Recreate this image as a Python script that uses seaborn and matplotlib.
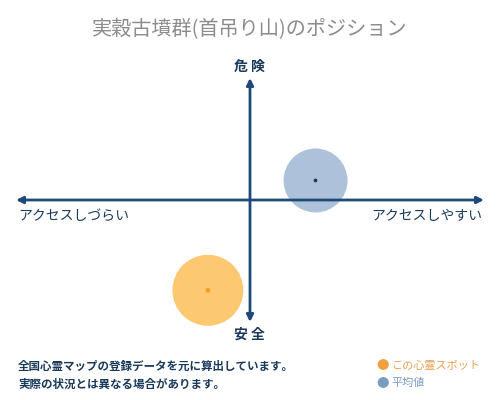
import matplotlib
matplotlib.use("Agg")
import matplotlib.pyplot as plt
import seaborn as sns
import pandas as pd

# position values (access: -10 hard .. 10 easy, danger: -10 safe .. 10 dangerous)
labels = ["この心霊スポット", "平均値"]
access = [-1.8, 2.8]
danger = [-7.4, 1.6]
sizes = [2610, 2120]
colors = ["#fdc56a", "#a9bfd8"]
dot_colors = ["#f0a020", "#1f3a5c"]

title = "実穀古墳群(首吊り山)のポジション"
notes = ["全国心霊マップの登録データを元に算出しています。", "実際の状況とは異なる場合があります。"]

df = pd.DataFrame({"label": labels, "access": access, "danger": danger, "size": sizes})

sns.set_theme(style="white")
plt.rcParams['font.family'] = ['Noto Sans CJK JP', 'DejaVu Sans']

navy = "#1f4a78"
fig = plt.figure(figsize=(5, 4), dpi=100)
ax = fig.add_axes([16 / 500, (400 - 322) / 400, 468 / 500, 244 / 400])
ax.set_xlim(-10, 10)
ax.set_ylim(-10, 10)
ax.axis("off")

sns.scatterplot(data=df, x="access", y="danger", hue="label", size="label",
                sizes=dict(zip(labels, sizes)), palette=dict(zip(labels, colors)),
                alpha=0.95, edgecolor="none", legend=False, ax=ax, zorder=2, clip_on=False)
ax.scatter(access, danger, s=[6, 3], c=dot_colors, zorder=4, clip_on=False)

# axes arrows, drawn over the circles
arrow = dict(arrowstyle="<|-|>", color=navy, lw=2, mutation_scale=10, shrinkA=0, shrinkB=0)
ax.annotate("", xy=(10, 0), xytext=(-10, 0), arrowprops=arrow, zorder=3)
ax.annotate("", xy=(0, 10), xytext=(0, -10), arrowprops=arrow, zorder=3)

txt = "#1a3a5c"
fig.text(0.5, 1 - 30 / 400, title, ha="center", va="center", fontsize=14.5, color="#8c8c8c")
fig.text(0.498, 1 - 67 / 400, "危 険", ha="center", va="center", fontsize=10, fontweight="bold", color=txt)
fig.text(0.498, 1 - 335 / 400, "安 全", ha="center", va="center", fontsize=10, fontweight="bold", color=txt)
fig.text(18 / 500, 1 - 216 / 400, "アクセスしづらい", ha="left", va="center", fontsize=10, color=txt)
fig.text(482 / 500, 1 - 216 / 400, "アクセスしやすい", ha="right", va="center", fontsize=10, color=txt)

for i, line in enumerate(notes):
    fig.text(18 / 500, 1 - (366 + 18 * i) / 400, line, ha="left", va="center",
             fontsize=8.3, fontweight="bold", color=txt)

leg_colors = ["#f0a040", "#7a9cc0"]
leg_text = ["#e8a050", "#7a9cc0"]
for i, lab in enumerate(labels):
    y = 1 - (366 + 17 * i) / 400
    fig.text(383 / 500, y, "●", ha="center", va="center", fontsize=9, color=leg_colors[i])
    fig.text(391 / 500, y, lab, ha="left", va="center", fontsize=8, color=leg_text[i])

fig.savefig("out.png", dpi=100, facecolor="white")
